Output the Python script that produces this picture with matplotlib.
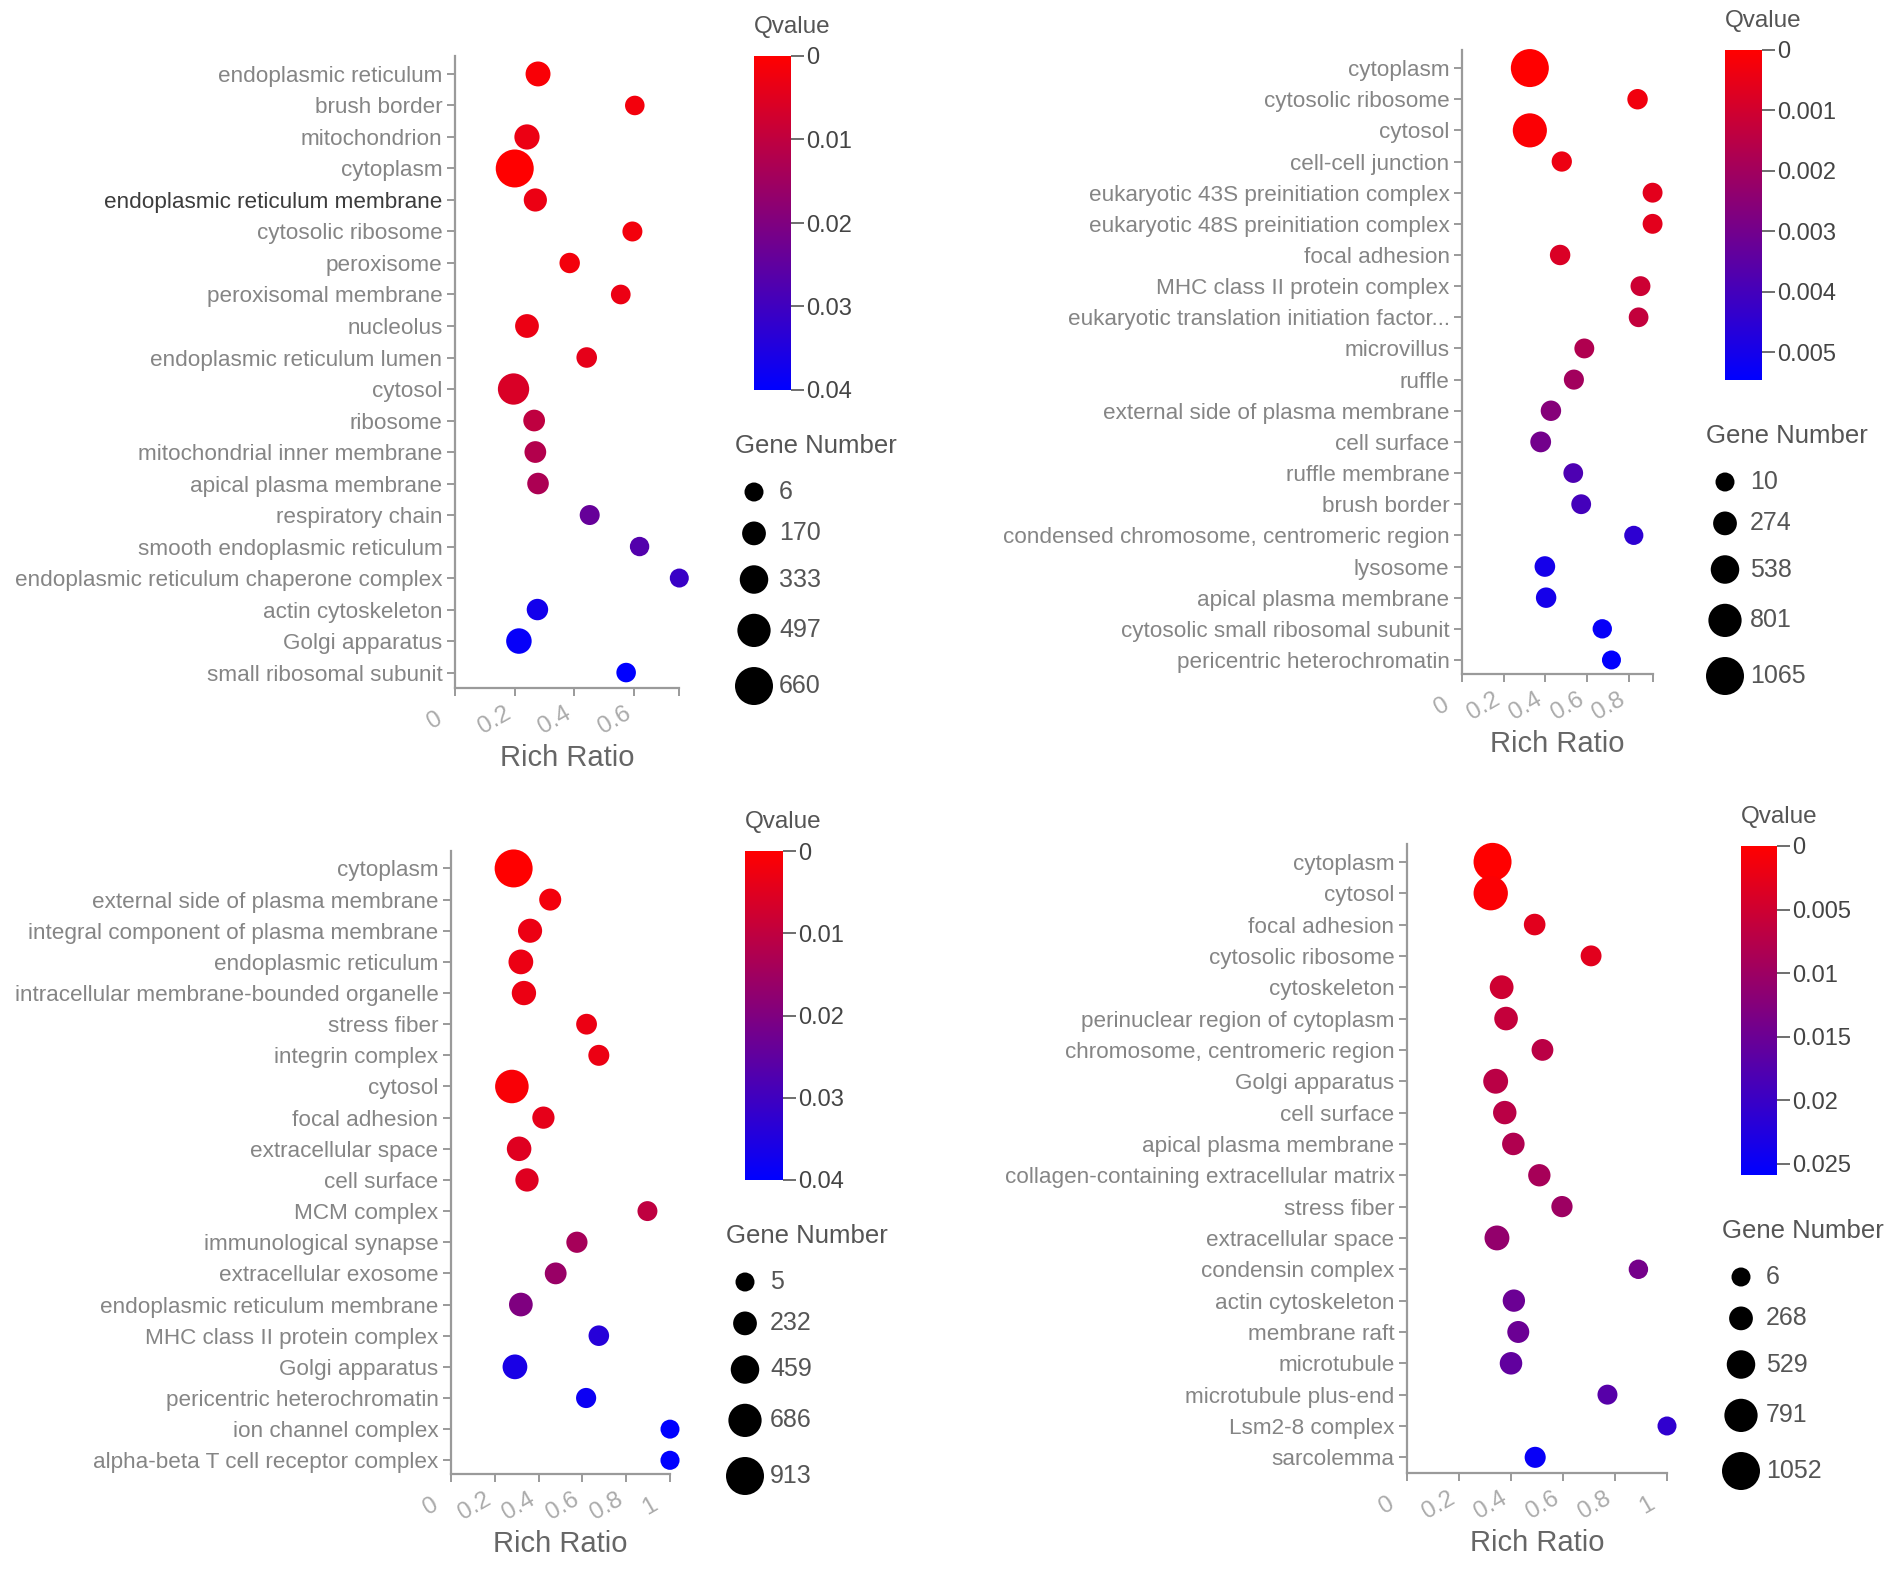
import numpy as np
import matplotlib.pyplot as plt
import matplotlib.transforms as mtransforms
from matplotlib.colors import LinearSegmentedColormap, Normalize
from matplotlib.cm import ScalarMappable

plt.rcParams['font.family'] = ['Liberation Sans', 'DejaVu Sans']

# ---- panel 1 (top left) ----
p1_terms = ["endoplasmic reticulum", "brush border", "mitochondrion", "cytoplasm",
            "endoplasmic reticulum membrane", "cytosolic ribosome", "peroxisome",
            "peroxisomal membrane", "nucleolus", "endoplasmic reticulum lumen", "cytosol",
            "ribosome", "mitochondrial inner membrane", "apical plasma membrane",
            "respiratory chain", "smooth endoplasmic reticulum",
            "endoplasmic reticulum chaperone complex", "actin cytoskeleton",
            "Golgi apparatus", "small ribosomal subunit"]
p1_ratio = [0.278, 0.602, 0.241, 0.200, 0.269, 0.594, 0.384, 0.555, 0.241, 0.441,
            0.196, 0.265, 0.269, 0.278, 0.451, 0.618, 0.751, 0.276, 0.214, 0.573]
p1_q = [0.001, 0.002, 0.003, 0.0, 0.003, 0.002, 0.002, 0.003, 0.003, 0.004,
        0.006, 0.010, 0.012, 0.013, 0.024, 0.027, 0.031, 0.037, 0.039, 0.040]
p1_genes = [210, 25, 220, 660, 150, 40, 55, 30, 170, 60,
            430, 100, 100, 95, 40, 20, 6, 90, 230, 25]
p1_gene_ticks = [6, 170, 333, 497, 660]
p1_q_ticks = [0, 0.01, 0.02, 0.03, 0.04]
p1_q_labels = ["0", "0.01", "0.02", "0.03", "0.04"]
p1_x_ticks = [0, 0.2, 0.4, 0.6, 0.75]
p1_x_labels = ["0", "0.2", "0.4", "0.6", ""]
p1_dark = ["endoplasmic reticulum membrane"]

# ---- panel 2 (top right) ----
p2_terms = ["cytoplasm", "cytosolic ribosome", "cytosol", "cell-cell junction",
            "eukaryotic 43S preinitiation complex", "eukaryotic 48S preinitiation complex",
            "focal adhesion", "MHC class II protein complex",
            "eukaryotic translation initiation factor...", "microvillus", "ruffle",
            "external side of plasma membrane", "cell surface", "ruffle membrane",
            "brush border", "condensed chromosome, centromeric region", "lysosome",
            "apical plasma membrane", "cytosolic small ribosomal subunit",
            "pericentric heterochromatin"]
p2_ratio = [0.325, 0.841, 0.325, 0.478, 0.913, 0.913, 0.470, 0.855, 0.846, 0.586,
            0.536, 0.426, 0.377, 0.533, 0.571, 0.823, 0.397, 0.403, 0.672, 0.716]
p2_q = [0.0, 0.0003, 0.0001, 0.0004, 0.0006, 0.0006, 0.0008, 0.0011, 0.0013, 0.0017,
        0.0020, 0.0026, 0.0030, 0.0038, 0.0040, 0.0045, 0.0050, 0.0050, 0.0053, 0.0054]
p2_genes = [1065, 90, 850, 80, 60, 60, 90, 60, 50, 60,
            70, 90, 110, 50, 55, 20, 100, 90, 30, 10]
p2_gene_ticks = [10, 274, 538, 801, 1065]
p2_q_ticks = [0, 0.001, 0.002, 0.003, 0.004, 0.005]
p2_q_labels = ["0", "0.001", "0.002", "0.003", "0.004", "0.005"]
p2_x_ticks = [0, 0.2, 0.4, 0.6, 0.8, 0.915]
p2_x_labels = ["0", "0.2", "0.4", "0.6", "0.8", ""]

# ---- panel 3 (bottom left) ----
p3_terms = ["cytoplasm", "external side of plasma membrane",
            "integral component of plasma membrane", "endoplasmic reticulum",
            "intracellular membrane-bounded organelle", "stress fiber", "integrin complex",
            "cytosol", "focal adhesion", "extracellular space", "cell surface", "MCM complex",
            "immunological synapse", "extracellular exosome",
            "endoplasmic reticulum membrane", "MHC class II protein complex",
            "Golgi apparatus", "pericentric heterochromatin", "ion channel complex",
            "alpha-beta T cell receptor complex"]
p3_ratio = [0.286, 0.453, 0.361, 0.319, 0.333, 0.619, 0.675, 0.278, 0.422, 0.311,
            0.347, 0.897, 0.575, 0.478, 0.319, 0.675, 0.292, 0.617, 1.0, 1.0]
p3_q = [0.0, 0.002, 0.003, 0.003, 0.003, 0.003, 0.003, 0.001, 0.004, 0.005,
        0.005, 0.010, 0.014, 0.016, 0.020, 0.034, 0.036, 0.038, 0.040, 0.040]
p3_genes = [913, 150, 250, 280, 260, 90, 100, 700, 160, 270,
            210, 50, 110, 140, 230, 80, 280, 60, 5, 10]
p3_gene_ticks = [5, 232, 459, 686, 913]
p3_q_ticks = [0, 0.01, 0.02, 0.03, 0.04]
p3_q_labels = ["0", "0.01", "0.02", "0.03", "0.04"]
p3_x_ticks = [0, 0.2, 0.4, 0.6, 0.8, 1.0]
p3_x_labels = ["0", "0.2", "0.4", "0.6", "0.8", "1"]

# ---- panel 4 (bottom right) ----
p4_terms = ["cytoplasm", "cytosol", "focal adhesion", "cytosolic ribosome", "cytoskeleton",
            "perinuclear region of cytoplasm", "chromosome, centromeric region",
            "Golgi apparatus", "cell surface", "apical plasma membrane",
            "collagen-containing extracellular matrix", "stress fiber", "extracellular space",
            "condensin complex", "actin cytoskeleton", "membrane raft", "microtubule",
            "microtubule plus-end", "Lsm2-8 complex", "sarcolemma"]
p4_ratio = [0.329, 0.322, 0.491, 0.708, 0.364, 0.381, 0.521, 0.341, 0.376, 0.409,
            0.509, 0.596, 0.346, 0.890, 0.411, 0.428, 0.400, 0.771, 1.0, 0.493]
p4_q = [0.0, 0.0005, 0.003, 0.003, 0.005, 0.006, 0.007, 0.007, 0.007, 0.008,
        0.009, 0.010, 0.011, 0.014, 0.015, 0.015, 0.016, 0.017, 0.021, 0.025]
p4_genes = [1052, 850, 150, 110, 270, 260, 160, 330, 250, 200,
            190, 130, 330, 30, 190, 170, 200, 60, 6, 120]
p4_gene_ticks = [6, 268, 529, 791, 1052]
p4_q_ticks = [0, 0.005, 0.01, 0.015, 0.02, 0.025]
p4_q_labels = ["0", "0.005", "0.01", "0.015", "0.02", "0.025"]
p4_x_ticks = [0, 0.2, 0.4, 0.6, 0.8, 1.0]
p4_x_labels = ["0", "0.2", "0.4", "0.6", "0.8", "1"]

W, H = 1902, 1583
fig = plt.figure(figsize=(W / 100, H / 100), dpi=100)
cmap = LinearSegmentedColormap.from_list("qv", ["#ff0000", "#0000ff"])

LABEL_C = "#858585"
AXIS_C = "#9a9a9a"


def px_axes(x0, y0, x1, y1):
    return fig.add_axes([x0 / W, 1 - y1 / H, (x1 - x0) / W, (y1 - y0) / H])


def dot_size(n, nmin, nmax):
    d = 19 + 19 * (np.asarray(n, float) - nmin) / (nmax - nmin)  # diameter in px
    return (d * 0.72) ** 2


def panel(terms, ratio, q, genes, gene_ticks, q_ticks, q_labels, x_ticks, x_labels,
          box, ylim_pad, cbox, qmax, dark=()):
    ax = px_axes(*box)
    nmin, nmax = gene_ticks[0], gene_ticks[-1]
    norm = Normalize(0, qmax)
    y = np.arange(len(terms))
    ax.scatter(ratio, y, s=dot_size(genes, nmin, nmax), c=q, cmap=cmap, norm=norm,
               edgecolors="none", zorder=3, clip_on=False)
    ax.set_yticks(y)
    ax.set_yticklabels(terms)
    ax.set_ylim(len(terms) - 1 + ylim_pad[1], -ylim_pad[0])
    ax.set_xlim(0, x_ticks[-1])
    ax.set_xticks(x_ticks)
    ax.set_xticklabels(x_labels)
    for s in ["top", "right"]:
        ax.spines[s].set_visible(False)
    for s in ["left", "bottom"]:
        ax.spines[s].set_color(AXIS_C)
        ax.spines[s].set_linewidth(1.6)
    ax.tick_params(axis="y", length=6, width=1.4, color=AXIS_C, labelcolor=LABEL_C,
                   labelsize=16.2, pad=3)
    for lab in ax.get_yticklabels():
        if lab.get_text() in dark:
            lab.set_color("#3c3c3c")
    ax.tick_params(axis="x", length=6, width=1.4, color=AXIS_C, labelcolor="#ababab",
                   labelsize=17.5, pad=17)
    off = mtransforms.ScaledTranslation(-0.2, 0, fig.dpi_scale_trans)
    for lab in ax.get_xticklabels():
        lab.set_rotation(30)
        lab.set_rotation_mode("anchor")
        lab.set_ha("center")
        lab.set_va("center")
        lab.set_transform(lab.get_transform() + off)
    ax.set_xlabel("Rich Ratio", fontsize=21, color="#666666")
    ax.xaxis.set_label_coords(0.5, -70 / (box[3] - box[1]))
    ax.xaxis.label.set_va("center")

    # colour bar, 0 at the top
    cax = px_axes(*cbox)
    cb = fig.colorbar(ScalarMappable(norm=norm, cmap=cmap), cax=cax)
    cb.outline.set_visible(False)
    cb.set_ticks(q_ticks)
    cb.set_ticklabels(q_labels)
    cax.invert_yaxis()
    cax.tick_params(length=9, width=1.2, color="#555555", labelcolor="#444444",
                    labelsize=17, pad=2)
    cax.text(0, 1 + 29 / (cbox[3] - cbox[1]), "Qvalue", transform=cax.transAxes,
             ha="left", va="center", fontsize=17.5, color="#555555")

    # gene number legend, drawn in pixel units below the colour bar
    cx, top = cbox[0], cbox[3]
    lax = px_axes(cx - 40, top + 30, cx + 170, top + 340)
    lax.set_xlim(cx - 40, cx + 170)
    lax.set_ylim(top + 340, top + 30)
    lax.axis("off")
    diam = 19 + 19 * (np.asarray(gene_ticks, float) - nmin) / (nmax - nmin)
    ys = [top + 102]
    for i in range(1, len(diam)):
        ys.append(ys[-1] + (diam[i - 1] + diam[i]) / 2 + 20)
    lax.scatter([cx] * len(gene_ticks), ys, s=dot_size(gene_ticks, nmin, nmax),
                color="black", edgecolors="none", clip_on=False)
    for g, yy in zip(gene_ticks, ys):
        lax.text(cx + 25, yy, str(g), ha="left", va="center", fontsize=18, color="#555555")
    lax.text(cx - 19, top + 56, "Gene Number", ha="left", va="center", fontsize=18.5,
             color="#555555")


panel(p1_terms, p1_ratio, p1_q, p1_genes, p1_gene_ticks, p1_q_ticks, p1_q_labels,
      p1_x_ticks, p1_x_labels, (455, 56, 679, 688), (0.57, 0.49), (754, 56, 791, 390), 0.04,
      dark=p1_dark)
panel(p2_terms, p2_ratio, p2_q, p2_genes, p2_gene_ticks, p2_q_ticks, p2_q_labels,
      p2_x_ticks, p2_x_labels, (1462, 50, 1653, 674), (0.58, 0.45), (1725, 50, 1762, 380),
      0.00546)
panel(p3_terms, p3_ratio, p3_q, p3_genes, p3_gene_ticks, p3_q_ticks, p3_q_labels,
      p3_x_ticks, p3_x_labels, (451, 851, 670, 1474), (0.56, 0.44), (745, 851, 783, 1180),
      0.04)
panel(p4_terms, p4_ratio, p4_q, p4_genes, p4_gene_ticks, p4_q_ticks, p4_q_labels,
      p4_x_ticks, p4_x_labels, (1407, 844, 1667, 1473), (0.57, 0.5), (1741, 846, 1777, 1175),
      0.0259)

fig.savefig("out.png", dpi=100)
